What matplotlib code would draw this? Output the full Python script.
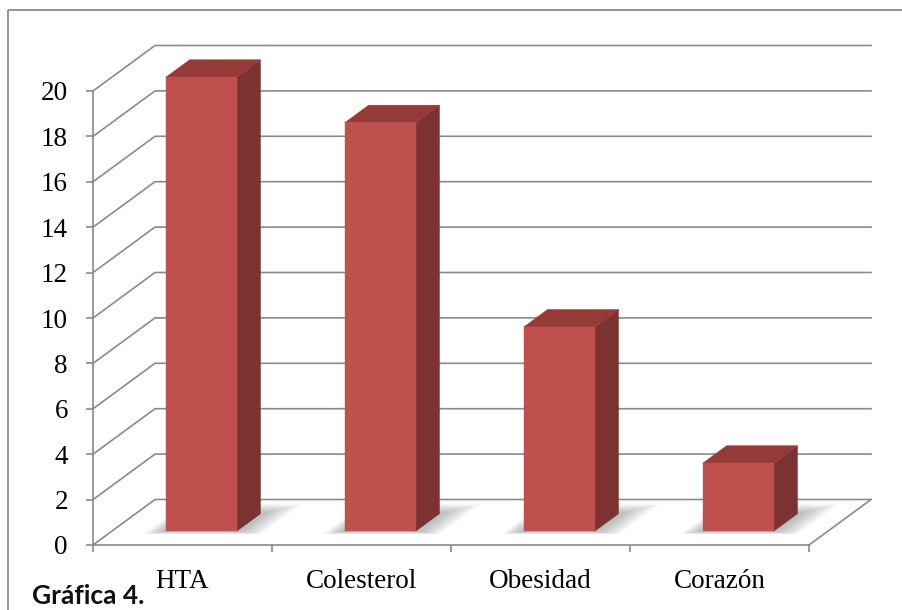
import matplotlib
matplotlib.use("Agg")
import matplotlib.pyplot as plt
from matplotlib.patches import Polygon
from matplotlib.ticker import FixedLocator, NullFormatter

categories = ["HTA", "Colesterol", "Obesidad", "Corazón"]
values = [20, 18, 9, 3]
y_ticks = list(range(0, 21, 2))
caption = "Gráfica 4."

W, H = 903, 610
fig = plt.figure(figsize=(W / 100, H / 100), dpi=100)

# background layer in pixel units: outer frame and caption
bg = fig.add_axes([0, 0, 1, 1], zorder=0)
bg.set_xlim(0, W)
bg.set_ylim(H, 0)
bg.axis("off")
frame_col = "#8c8c8c"
bg.plot([8.5, W + 5], [9.5, 9.5], color=frame_col, lw=1.3, solid_capstyle="butt")
bg.plot([8.5, 8.5], [9.5, H + 5], color=frame_col, lw=1.3, solid_capstyle="butt")
bg.text(32, 604, caption, fontsize=19, fontweight="bold", family=["Lato", "DejaVu Sans"],
        ha="left", va="baseline", color="#111111")

# front plane of the 3D box; depth is an oblique pixel offset
x0_px, y0_px = 93, 545
front_w_px, front_h_px = 716, 454
ax = fig.add_axes([x0_px / W, 1 - y0_px / H, front_w_px / W, front_h_px / H], zorder=1)
ax.patch.set_visible(False)
n = len(categories)
ymax = y_ticks[-1]
ax.set_xlim(0, n)
ax.set_ylim(0, ymax)

cat_px = front_w_px / n
unit_px = front_h_px / ymax
depth_dx, depth_dy = 62, 45.5
KX = depth_dx / cat_px
KY = depth_dy / unit_px


def proj(c, v, z):
    return (c + z * KX, v + z * KY)


grid_col = "#8a8a8a"
glw = 1.2

# back wall and side wall grid lines
for v in y_ticks:
    p0 = proj(0, v, 0)
    p1 = proj(0, v, 1)
    p2 = proj(n, v, 1)
    ax.plot([p0[0], p1[0], p2[0]], [p0[1], p1[1], p2[1]], color=grid_col, lw=glw,
            clip_on=False, zorder=1, solid_joinstyle="miter")
# right edge of the floor
f0 = proj(n, 0, 0)
f1 = proj(n, 0, 1)
ax.plot([f0[0], f1[0]], [f0[1], f1[1]], color=grid_col, lw=glw, clip_on=False, zorder=1)

# bars
half_w = 0.198
z_front, z_back = 0.30, 0.687
face_col = "#c0504d"
side_col = "#7c3230"
top_col = "#943b38"

for i, v in enumerate(values):
    c0 = i + 0.5 - half_w
    c1 = i + 0.5 + half_w
    # soft floor shadow
    for k in range(10):
        el = 0.02 + 0.009 * k
        er = 0.03 + 0.014 * k
        ez = 0.03 + 0.02 * k
        pts = [proj(c0 - el, 0, z_front - ez * 0.3), proj(c1 + er, 0, z_front - ez * 0.3),
               proj(c1 + er, 0, z_back + ez), proj(c0 - el, 0, z_back + ez)]
        ax.add_patch(Polygon(pts, closed=True, facecolor="#6e6e6e", edgecolor="none",
                             alpha=0.05, clip_on=False, zorder=2))
    side = [proj(c1, 0, z_front), proj(c1, 0, z_back), proj(c1, v, z_back), proj(c1, v, z_front)]
    top = [proj(c0, v, z_front), proj(c1, v, z_front), proj(c1, v, z_back), proj(c0, v, z_back)]
    front = [proj(c0, 0, z_front), proj(c1, 0, z_front), proj(c1, v, z_front), proj(c0, v, z_front)]
    for pts, col in ((side, side_col), (top, top_col), (front, face_col)):
        ax.add_patch(Polygon(pts, closed=True, facecolor=col, edgecolor=col, lw=0.3,
                             clip_on=False, zorder=3))

# axes: front-left value axis and front floor edge
for s in ("top", "right"):
    ax.spines[s].set_visible(False)
for s in ("left", "bottom"):
    ax.spines[s].set_color(grid_col)
    ax.spines[s].set_linewidth(glw)

tick_font = dict(family=["Liberation Serif", "DejaVu Serif"], size=19.5)
ax.set_yticks(y_ticks)
ax.set_yticklabels([str(t) for t in y_ticks], fontdict=tick_font)
ax.tick_params(axis="y", length=5, width=glw, color=grid_col, pad=13, labelcolor="#000000")

ax.xaxis.set_major_locator(FixedLocator(range(n + 1)))
ax.xaxis.set_major_formatter(NullFormatter())
ax.set_xticks([i + 0.5 for i in range(n)], minor=True)
ax.set_xticklabels(categories, minor=True, fontdict=tick_font)
ax.tick_params(axis="x", which="major", length=5, width=glw, color=grid_col)
ax.tick_params(axis="x", which="minor", length=0, pad=17.5, labelcolor="#000000")

fig.savefig("out.png", dpi=100)
